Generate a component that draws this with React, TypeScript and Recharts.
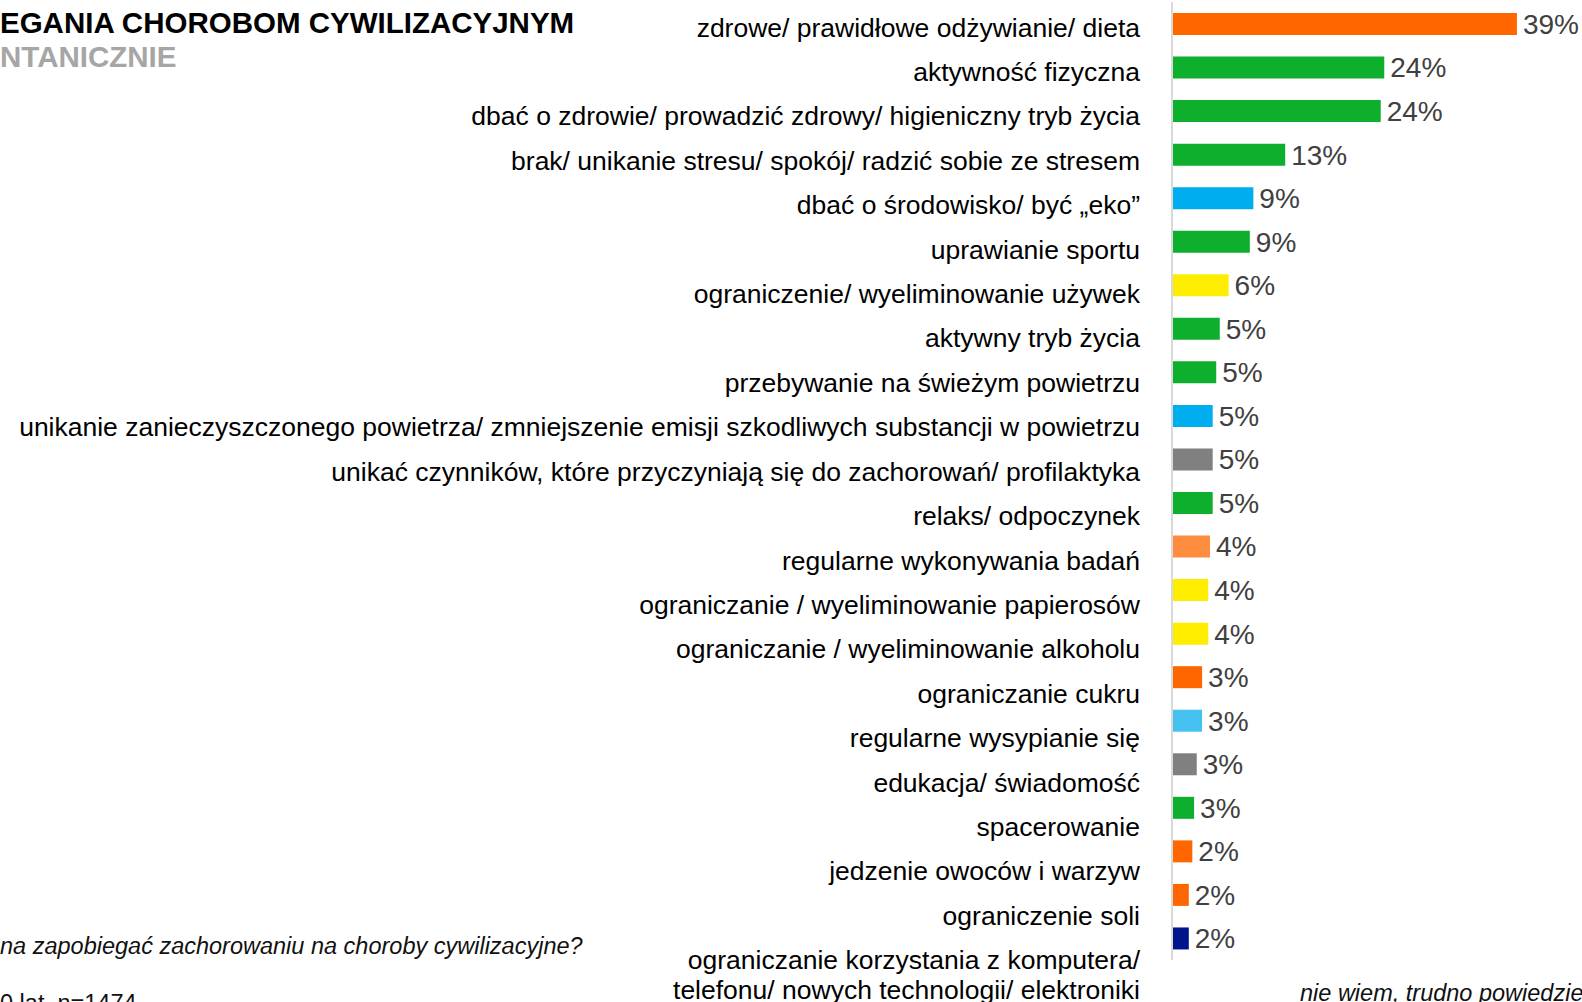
import React from 'react';
import { Bar, BarChart, Cell, LabelList, XAxis, YAxis } from 'recharts';

const categories = [
  'zdrowe/ prawidłowe odżywianie/ dieta',
  'aktywność fizyczna',
  'dbać o zdrowie/ prowadzić zdrowy/ higieniczny tryb życia',
  'brak/ unikanie stresu/ spokój/ radzić sobie ze stresem',
  'dbać o środowisko/ być „eko”',
  'uprawianie sportu',
  'ograniczenie/ wyeliminowanie używek',
  'aktywny tryb życia',
  'przebywanie na świeżym powietrzu',
  'unikanie zanieczyszczonego powietrza/ zmniejszenie emisji szkodliwych substancji w powietrzu',
  'unikać czynników, które przyczyniają się do zachorowań/ profilaktyka',
  'relaks/ odpoczynek',
  'regularne wykonywania badań',
  'ograniczanie / wyeliminowanie papierosów',
  'ograniczanie / wyeliminowanie alkoholu',
  'ograniczanie cukru',
  'regularne wysypianie się',
  'edukacja/ świadomość',
  'spacerowanie',
  'jedzenie owoców i warzyw',
  'ograniczenie soli',
  'ograniczanie korzystania z komputera/\ntelefonu/ nowych technologii/ elektroniki'
];

const values = [
  39.0, 24.0, 23.6, 12.8, 9.2, 8.8, 6.4, 5.4, 5.0, 4.6, 4.6,
  4.6, 4.3, 4.1, 4.1, 3.4, 3.4, 2.8, 2.5, 2.3, 1.9, 1.9
];

const ORANGE = '#FF6600';
const GREEN = '#0EAF2D';
const BLUE = '#00AEEF';
const YELLOW = '#FFED00';
const GREY = '#808080';
const LIGHT_ORANGE = '#FF8D3F';
const LIGHT_BLUE = '#45C2F2';
const NAVY = '#00148C';

const barColors = [
  ORANGE, GREEN, GREEN, GREEN, BLUE, GREEN, YELLOW, GREEN, GREEN, BLUE, GREY,
  GREEN, LIGHT_ORANGE, YELLOW, YELLOW, ORANGE, LIGHT_BLUE, GREY, GREEN, ORANGE, ORANGE, NAVY
];

const data = categories.map((name, i) => ({ name, value: values[i] }));

const FONT = '"Liberation Sans", Arial, Helvetica, sans-serif';

// multi-line category label: first line sits on the tick, the rest below it
function CategoryTick (props: any) {
  const { x, y, payload } = props;
  const lines = String(payload.value).split('\n');
  const lineHeight = 30;

  return (
    <text fill='#000' fontFamily={FONT} fontSize={26.5} textAnchor='end' x={x} y={y}>
      {lines.map((line, i) => (
        <tspan dy='0.355em' key={i} x={x} y={y + i * lineHeight}>{line}</tspan>
      ))}
    </text>
  );
}

export default function App () {
  return (
    <div style={{ background: '#fff', height: 1002, left: 0, overflow: 'hidden', position: 'absolute', top: 0, width: 1582 }}>
      <BarChart
        data={data}
        height={1002}
        layout='vertical'
        margin={{ bottom: 42, left: 0, right: 12, top: 2 }}
        width={1582}
      >
        <XAxis domain={[0, 45]} hide type='number' />
        <YAxis dataKey='name' hide type='category' width={0} yAxisId='bars' />
        <YAxis
          axisLine={{ stroke: '#D9D9D9', strokeWidth: 2 }}
          dataKey='name'
          interval={0}
          padding={{ bottom: -22, top: 3 }}
          tick={<CategoryTick />}
          tickLine={false}
          tickMargin={32}
          tickSize={0}
          type='category'
          width={1172}
          yAxisId='labels'
        />
        <Bar barSize={22} dataKey='value' isAnimationActive={false} yAxisId='bars'>
          {data.map((d, i) => (
            <Cell fill={barColors[i]} key={d.name} />
          ))}
          <LabelList
            dataKey='value'
            fill='#404040'
            fontFamily={FONT}
            fontSize={28}
            formatter={(v: any) => `${Math.round(Number(v))}%`}
            offset={6}
            position='right'
          />
        </Bar>
      </BarChart>

      <svg height={1002} style={{ left: 0, pointerEvents: 'none', position: 'absolute', top: 0 }} width={1582}>
        <g fontFamily={FONT}>
          <text fill='#000' fontSize={29.5} fontWeight='bold' x={0} y={33}>EGANIA CHOROBOM CYWILIZACYJNYM</text>
          <text fill='#A6A6A6' fontSize={29.5} fontWeight='bold' x={0} y={67}>NTANICZNIE</text>
          <text fill='#111' fontSize={23.5} fontStyle='italic' x={0} y={954}>na zapobiegać zachorowaniu na choroby cywilizacyjne?</text>
          <text fill='#111' fontSize={23.5} x={0} y={1011}>0 lat, n=1474</text>
          <text fill='#111' fontSize={23.5} fontStyle='italic' x={1300} y={1001}>nie wiem, trudno powiedzieć</text>
        </g>
      </svg>
    </div>
  );
}
